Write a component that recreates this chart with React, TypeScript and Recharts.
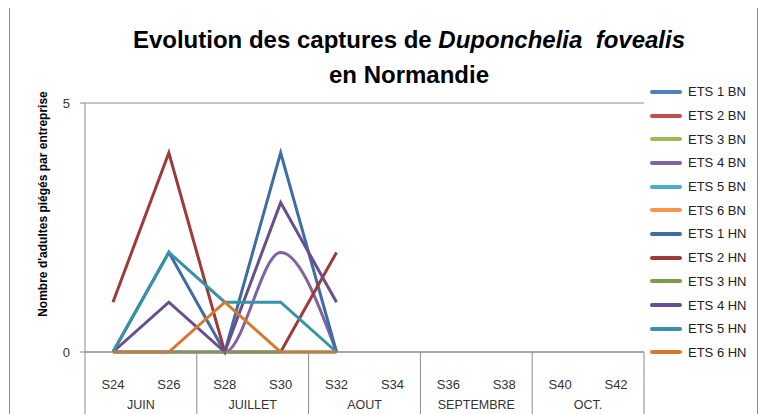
import React from 'react';
import { LineChart, Line, XAxis, YAxis, CartesianGrid } from 'recharts';

const weeks = ['S24', 'S26', 'S28', 'S30', 'S32', 'S34', 'S36', 'S38', 'S40', 'S42'];
const months = ['JUIN', 'JUIN', 'JUILLET', 'JUILLET', 'AOUT', 'AOUT', 'SEPTEMBRE', 'SEPTEMBRE', 'OCT.', 'OCT.'];
const yTicks = [0, 5];

const ets1BN: (number | null)[] = [null, null, null, null, null, null, null, null, null, null];
const ets2BN: (number | null)[] = [null, null, null, null, null, null, null, null, null, null];
const ets3BN: (number | null)[] = [null, null, null, null, null, null, null, null, null, null];
const ets4BN: (number | null)[] = [0, 0, 0, 2, 0, null, null, null, null, null];
const ets5BN: (number | null)[] = [null, null, null, null, null, null, null, null, null, null];
const ets6BN: (number | null)[] = [null, null, null, null, null, null, null, null, null, null];
const ets1HN: (number | null)[] = [0, 2, 0, 4, 0, null, null, null, null, null];
const ets2HN: (number | null)[] = [1, 4, 0, 0, 2, null, null, null, null, null];
const ets3HN: (number | null)[] = [0, 0, 0, 0, 0, null, null, null, null, null];
const ets4HN: (number | null)[] = [0, 1, 0, 3, 1, null, null, null, null, null];
const ets5HN: (number | null)[] = [0, 2, 1, 1, 0, null, null, null, null, null];
const ets6HN: (number | null)[] = [0, 0, 1, 0, 0, null, null, null, null, null];

const seriesList = [
  { key: 'ETS 1 BN', values: ets1BN, color: '#4F81BD', type: 'linear' },
  { key: 'ETS 2 BN', values: ets2BN, color: '#C0504D', type: 'linear' },
  { key: 'ETS 3 BN', values: ets3BN, color: '#9BBB59', type: 'linear' },
  { key: 'ETS 4 BN', values: ets4BN, color: '#8064A2', type: 'monotone' },
  { key: 'ETS 5 BN', values: ets5BN, color: '#4BACC6', type: 'linear' },
  { key: 'ETS 6 BN', values: ets6BN, color: '#F79646', type: 'linear' },
  { key: 'ETS 1 HN', values: ets1HN, color: '#3E6CA3', type: 'linear' },
  { key: 'ETS 2 HN', values: ets2HN, color: '#9E3A38', type: 'linear' },
  { key: 'ETS 3 HN', values: ets3HN, color: '#7B9B46', type: 'linear' },
  { key: 'ETS 4 HN', values: ets4HN, color: '#674E8C', type: 'linear' },
  { key: 'ETS 5 HN', values: ets5HN, color: '#3592A7', type: 'linear' },
  { key: 'ETS 6 HN', values: ets6HN, color: '#D8782E', type: 'linear' },
];

const data = weeks.map((w, i) => {
  const row: Record<string, any> = { week: w, month: months[i] };
  seriesList.forEach((s) => {
    row[s.key] = s.values[i];
  });
  return row;
});

const FONT = "'Liberation Sans', Arial, sans-serif";
const CHART_W = 750;
const CHART_H = 406;
const MARGIN = { top: 95, right: 114, bottom: 0, left: 47 };
const Y_W = 30;
const PLOT_W = CHART_W - MARGIN.left - MARGIN.right - Y_W;
const BAND = PLOT_W / weeks.length;
const AXIS_COLOR = '#8a8a8a';

const WeekTick = (props: any) => {
  const { x, y, payload } = props;
  const i = payload.index;
  return (
    <g>
      <text x={x} y={y + 37} textAnchor="middle" fontSize={13} fill="#333" fontFamily={FONT}>
        {payload.value}
      </text>
      {i % 2 === 0 && (
        <>
          <line x1={x - BAND / 2} x2={x - BAND / 2} y1={y} y2={y + 75} stroke={AXIS_COLOR} strokeWidth={1} />
          <text x={x + BAND / 2} y={y + 57} textAnchor="middle" fontSize={12.5} fill="#333" fontFamily={FONT}>
            {months[i]}
          </text>
        </>
      )}
      {i === weeks.length - 1 && (
        <line x1={x + BAND / 2} x2={x + BAND / 2} y1={y} y2={y + 75} stroke={AXIS_COLOR} strokeWidth={1} />
      )}
    </g>
  );
};

const LegendBox = () => (
  <div style={{ position: 'absolute', left: 642, top: 72, width: 120, fontFamily: FONT }}>
    {seriesList.map((s) => (
      <div key={s.key} style={{ height: 23.7, display: 'flex', alignItems: 'center' }}>
        <div style={{ width: 32, height: 4, borderRadius: 2, background: s.color, marginRight: 6 }} />
        <span style={{ fontSize: 13, color: '#222' }}>{s.key}</span>
      </div>
    ))}
  </div>
);

export default function App() {
  return (
    <div style={{ position: 'relative', width: CHART_W, height: CHART_H }}>
      <div
        style={{
          position: 'absolute',
          left: 1,
          top: -1,
          width: 749,
          height: 430,
          border: '1.5px solid #8c8c8c',
          boxSizing: 'border-box',
          pointerEvents: 'none',
        }}
      />
      <div
        style={{
          position: 'absolute',
          left: 101,
          top: 14,
          width: 600,
          textAlign: 'center',
          fontFamily: FONT,
          fontWeight: 'bold',
          fontSize: 24,
          lineHeight: '35px',
          color: '#000',
          whiteSpace: 'nowrap',
        }}
      >
        <div>
          Evolution des captures de <i>Duponchelia&nbsp; fovealis</i>
        </div>
        <div>en Normandie</div>
      </div>
      <div style={{ position: 'absolute', left: 35, top: 196, width: 0, height: 0 }}>
        <div
          style={{
            position: 'absolute',
            transform: 'translate(-50%, -50%) rotate(-90deg)',
            whiteSpace: 'nowrap',
            fontFamily: FONT,
            fontWeight: 'bold',
            fontSize: 12,
            color: '#000',
          }}
        >
          Nombre d'adultes piégés par entreprise
        </div>
      </div>
      <LegendBox />
      <div style={{ position: 'absolute', left: 0, top: 0 }}>
        <LineChart width={CHART_W} height={CHART_H} data={data} margin={MARGIN}>
          <CartesianGrid vertical={false} stroke={AXIS_COLOR} strokeWidth={1} />
          <XAxis
            dataKey="week"
            interval={0}
            height={62}
            padding={{ left: BAND / 2, right: BAND / 2 }}
            tickLine={false}
            tickSize={0}
            tickMargin={0}
            axisLine={{ stroke: AXIS_COLOR }}
            tick={<WeekTick />}
          />
          <YAxis
            domain={[0, 5]}
            ticks={yTicks}
            width={Y_W}
            tickSize={5}
            tickMargin={10}
            tickLine={{ stroke: AXIS_COLOR }}
            axisLine={{ stroke: AXIS_COLOR }}
            tick={{ fontSize: 13, fill: '#333', fontFamily: FONT }}
          />
          {seriesList.map((s) => (
            <Line
              key={s.key}
              dataKey={s.key}
              name={s.key}
              type={s.type as any}
              stroke={s.color}
              strokeWidth={3}
              dot={false}
              activeDot={false}
              isAnimationActive={false}
            />
          ))}
        </LineChart>
      </div>
    </div>
  );
}
